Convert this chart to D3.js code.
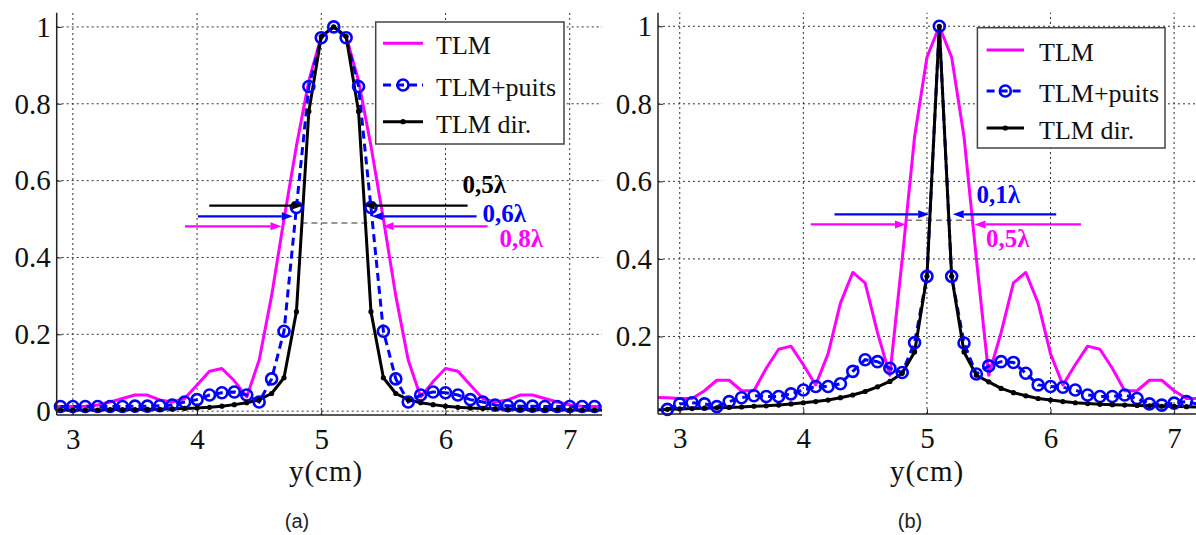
<!DOCTYPE html>
<html>
<head>
<meta charset="utf-8">
<script src="https://cdn.jsdelivr.net/npm/d3@7"></script>
<style>
  html, body { margin: 0; padding: 0; background: #fff; }
  svg { display: block; }
</style>
</head>
<body>
<svg id="chart" width="1196" height="535"></svg>
<script>
// ---------------- DATA ----------------
const seriesNames = ["TLM", "TLM+puits", "TLM dir."];

// Panel (a)
const xA = [2.8, 2.9, 3.0, 3.1, 3.2, 3.3, 3.4, 3.5, 3.6, 3.7, 3.8, 3.9, 4.0, 4.1, 4.2, 4.3, 4.4, 4.5, 4.6, 4.7, 4.8, 4.9, 5.0,
            5.1, 5.2, 5.3, 5.4, 5.5, 5.6, 5.7, 5.8, 5.9, 6.0, 6.1, 6.2, 6.3, 6.4, 6.5, 6.6, 6.7, 6.8, 6.9, 7.0, 7.1, 7.2, 7.3];
const tlmA = [0.012, 0.012, 0.012, 0.013, 0.016, 0.024, 0.033, 0.042, 0.042, 0.029, 0.024, 0.033, 0.068, 0.104, 0.111, 0.079, 0.037, 0.133, 0.30, 0.50, 0.69, 0.86, 0.975,
              1.0, 0.975, 0.86, 0.69, 0.50, 0.30, 0.133, 0.037, 0.077, 0.111, 0.104, 0.068, 0.033, 0.024, 0.029, 0.042, 0.042, 0.033, 0.024, 0.016, 0.013, 0.012, 0.012];
const puitsA = [null, 0.012, 0.012, 0.012, 0.012, 0.012, 0.012, 0.013, 0.013, 0.014, 0.016, 0.024, 0.030, 0.042, 0.048, 0.050, 0.042, 0.024, 0.084, 0.208, 0.53, 0.845, 0.972,
                1.0, 0.972, 0.845, 0.53, 0.208, 0.084, 0.024, 0.042, 0.050, 0.048, 0.042, 0.030, 0.024, 0.016, 0.014, 0.013, 0.013, 0.012, 0.012, 0.012, 0.012, 0.012, null];
const dirA = [0.003, 0.003, 0.003, 0.003, 0.003, 0.004, 0.004, 0.004, 0.005, 0.005, 0.006, 0.007, 0.008, 0.010, 0.013, 0.017, 0.022, 0.030, 0.046, 0.087, 0.259, 0.78, 0.975,
              1.0, 0.975, 0.78, 0.259, 0.087, 0.046, 0.030, 0.022, 0.017, 0.013, 0.010, 0.008, 0.007, 0.006, 0.005, 0.005, 0.004, 0.004, 0.004, 0.003, 0.003, 0.003, 0.003];

// Panel (b)
const xB = [2.8, 2.9, 3.0, 3.1, 3.2, 3.3, 3.4, 3.5, 3.6, 3.7, 3.8, 3.9, 4.0, 4.1, 4.2, 4.3, 4.4, 4.5, 4.6, 4.7, 4.8, 4.9, 5.0,
            5.1, 5.2, 5.3, 5.4, 5.5, 5.6, 5.7, 5.8, 5.9, 6.0, 6.1, 6.2, 6.3, 6.4, 6.5, 6.6, 6.7, 6.8, 6.9, 7.0, 7.1, 7.2];
const tlmB = [0.043, 0.042, 0.040, 0.040, 0.060, 0.087, 0.087, 0.060, 0.060, 0.118, 0.167, 0.175, 0.127, 0.075, 0.155, 0.286, 0.365, 0.338, 0.21, 0.10, 0.40, 0.715, 0.92,
              1.0, 0.92, 0.715, 0.40, 0.10, 0.21, 0.338, 0.365, 0.286, 0.155, 0.075, 0.127, 0.175, 0.167, 0.118, 0.060, 0.060, 0.087, 0.087, 0.060, 0.040, 0.040];
const puitsB = [null, 0.012, 0.026, 0.029, 0.026, 0.019, 0.032, 0.042, 0.047, 0.045, 0.045, 0.052, 0.062, 0.071, 0.071, 0.078, 0.110, 0.140, 0.135, 0.118, 0.107, 0.184, 0.355,
                1.0, 0.355, 0.183, 0.103, 0.124, 0.135, 0.133, 0.105, 0.075, 0.071, 0.069, 0.062, 0.049, 0.045, 0.045, 0.049, 0.040, 0.026, 0.023, 0.028, 0.032, 0.025];
const dirB = [0.010, 0.012, 0.013, 0.014, 0.015, 0.016, 0.017, 0.018, 0.020, 0.021, 0.023, 0.026, 0.029, 0.032, 0.036, 0.042, 0.049, 0.058, 0.070, 0.084, 0.105, 0.16, 0.355,
              1.0, 0.355, 0.16, 0.10, 0.083, 0.066, 0.055, 0.047, 0.040, 0.036, 0.032, 0.029, 0.027, 0.025, 0.024, 0.023, 0.022, 0.021, 0.020, 0.020, 0.019, 0.018];

// Tick labels
const xTicks = [3, 4, 5, 6, 7];
const yTicksA = [0, 0.2, 0.4, 0.6, 0.8, 1];
const yTicksB = [0.2, 0.4, 0.6, 0.8, 1];
const xLabel = "y(cm)";
const captions = ["(a)", "(b)"];

// Annotations: [label, y level, left start, left tip, right start, right tip]
const annotA = [
  ["0,5λ", 0.535, 4.098, 4.854, 6.178, 5.342],
  ["0,6λ", 0.507, 4.007, 4.771, 6.25, 5.406],
  ["0,8λ", 0.481, 3.903, 4.68, 6.339, 5.494]
];
const halfA = [0.49, 4.84, 5.40];
const annotB = [
  ["0,1λ", 0.515, 4.252, 5.018, 6.046, 5.209],
  ["0,5λ", 0.489, 4.06, 4.83, 6.246, 5.385]
];
const halfB = [0.5, 4.83, 5.385];

// ---------------- STYLE / LAYOUT ----------------
const colors = { tlm: "#ff00ff", puits: "#0000ff", dir: "#000000" };
const serif = "'Liberation Serif', 'Times New Roman', Times, serif";
const sans = "'Liberation Sans', Arial, sans-serif";

const svg = d3.select("#chart");

function drawPanel(cfg) {
  const x = d3.scaleLinear().domain(cfg.xDomain).range(cfg.xRange);
  const y = d3.scaleLinear().domain(cfg.yDomain).range(cfg.yRange);
  const g = svg.append("g");
  const [x0, x1] = cfg.xRange;
  const [yb, yt] = cfg.yRange;

  const clipId = "clip" + cfg.id;
  svg.append("defs").append("clipPath").attr("id", clipId)
    .append("rect").attr("x", x0).attr("y", yt).attr("width", x1 - x0).attr("height", yb - yt);

  // grid
  const grid = g.append("g").attr("stroke", "#333").attr("stroke-width", 1).attr("stroke-dasharray", "2,3");
  grid.selectAll("line.v").data(xTicks).join("line")
    .attr("x1", d => x(d)).attr("x2", d => x(d)).attr("y1", yb).attr("y2", yt);
  grid.selectAll("line.h").data(cfg.yTicks).join("line")
    .attr("x1", x0).attr("x2", x1).attr("y1", d => y(d)).attr("y2", d => y(d));

  // half-max gray dashed line
  g.append("line")
    .attr("x1", x(cfg.half[1])).attr("x2", x(cfg.half[2]))
    .attr("y1", y(cfg.half[0])).attr("y2", y(cfg.half[0]))
    .attr("stroke", "#777").attr("stroke-width", 1.5).attr("stroke-dasharray", "6,4");

  const plot = g.append("g").attr("clip-path", `url(#${clipId})`);
  const mk = (ys) => cfg.xs.map((xv, i) => ({ x: xv, y: ys[i] }));
  const line = d3.line().defined(d => d.y !== null).x(d => x(d.x)).y(d => y(d.y));

  const dT = mk(cfg.tlm), dP = mk(cfg.puits), dD = mk(cfg.dir);
  plot.append("path").datum(dT).attr("d", line).attr("fill", "none")
    .attr("stroke", colors.tlm).attr("stroke-width", 3).attr("stroke-linejoin", "round");
  plot.append("path").datum(dP).attr("d", line).attr("fill", "none")
    .attr("stroke", colors.puits).attr("stroke-width", 3).attr("stroke-dasharray", "8,5");
  const inside = d => d.y !== null && d.x >= cfg.xDomain[0] && d.x <= cfg.xDomain[1];
  g.append("g").selectAll("circle").data(dP.filter(inside)).join("circle")
    .attr("cx", d => x(d.x)).attr("cy", d => y(d.y)).attr("r", 5.5)
    .attr("fill", "none").attr("stroke", colors.puits).attr("stroke-width", 2.6);
  plot.append("path").datum(dD).attr("d", line).attr("fill", "none")
    .attr("stroke", colors.dir).attr("stroke-width", 3).attr("stroke-linejoin", "round");
  g.append("g").selectAll("circle").data(dD.filter(inside)).join("circle")
    .attr("cx", d => x(d.x)).attr("cy", d => y(d.y)).attr("r", 2.6).attr("fill", colors.dir);

  // axes
  const ax = g.append("g").attr("transform", `translate(0,${yb})`)
    .call(d3.axisBottom(x).tickValues(xTicks).tickSize(-5).tickSizeOuter(0).tickPadding(13).tickFormat(d => String(d)));
  const ay = g.append("g").attr("transform", `translate(${x0},0)`)
    .call(d3.axisLeft(y).tickValues(cfg.yTicks).tickSize(-5).tickSizeOuter(0).tickPadding(6).tickFormat(d => String(d)));
  [ax, ay].forEach(a => {
    a.attr("font-family", null).attr("font-size", null);
    a.select(".domain").attr("stroke", "#222").attr("stroke-width", 1.5);
    a.selectAll(".tick line").attr("stroke", "#222");
    a.selectAll("text").style("font-family", serif).style("font-size", "29px").attr("fill", "#111");
  });
  ay.select(".domain").attr("d", `M0,${yb}V${yt}`);
  ax.select(".domain").attr("d", `M0,0H${x1 - x0}`).attr("transform", `translate(${x0},0)`);

  // x label
  g.append("text").attr("x", cfg.xLabelX).attr("y", 481).attr("text-anchor", "middle")
    .style("font-family", serif).style("font-size", "29px").attr("fill", "#111")
    .style("letter-spacing", "1px").text(xLabel);
  // caption
  g.append("text").attr("x", cfg.capX).attr("y", 528).attr("text-anchor", "middle")
    .style("font-family", sans).style("font-size", "20px").attr("fill", "#222").text(cfg.caption);

  // annotations (arrows)
  const colorList = cfg.annotColors;
  cfg.annot.forEach((a, i) => {
    const [lab, yv, ls, lt, rs, rt] = a;
    const c = colorList[i];
    const yy = y(yv);
    drawArrow(g, x(ls), x(lt), yy, c);
    drawArrow(g, x(rs), x(rt), yy, c);
    const lp = cfg.labelPos[i];
    g.append("text").attr("x", x(lp[0])).attr("y", y(lp[1]))
      .style("font-family", serif).style("font-size", "25px").style("font-weight", "bold")
      .attr("fill", c).text(lab);
  });

  // legend
  const L = cfg.legend;
  const lg = g.append("g");
  lg.append("rect").attr("x", L.x).attr("y", L.y).attr("width", L.w).attr("height", L.h)
    .attr("fill", "#fff").attr("stroke", "#444").attr("stroke-width", 1.5);
  const rows = [
    { name: seriesNames[0], color: colors.tlm, dash: null, marker: null },
    { name: seriesNames[1], color: colors.puits, dash: "8,5", marker: "o" },
    { name: seriesNames[2], color: colors.dir, dash: null, marker: "." }
  ];
  rows.forEach((r, i) => {
    const ry = L.rows[i];
    lg.append("line").attr("x1", L.s0).attr("x2", L.s1).attr("y1", ry).attr("y2", ry)
      .attr("stroke", r.color).attr("stroke-width", 3).attr("stroke-dasharray", r.dash);
    const cx = (L.s0 + L.s1) / 2;
    if (r.marker === "o") {
      lg.append("circle").attr("cx", cx).attr("cy", ry).attr("r", 5.5).attr("fill", "none")
        .attr("stroke", r.color).attr("stroke-width", 2.6);
    } else if (r.marker === ".") {
      lg.append("circle").attr("cx", cx).attr("cy", ry).attr("r", 2.6).attr("fill", r.color);
    }
    lg.append("text").attr("x", L.tx).attr("y", ry + 11)
      .style("font-family", serif).style("font-size", "26px").attr("fill", "#111").text(r.name);
  });
}

function drawArrow(g, xs, xt, yy, c) {
  const dir = xt > xs ? 1 : -1;
  const hl = 11, hw = 4;
  g.append("line").attr("x1", xs).attr("x2", xt - dir * hl).attr("y1", yy).attr("y2", yy)
    .attr("stroke", c).attr("stroke-width", 2.2);
  g.append("path")
    .attr("d", `M${xt},${yy}L${xt - dir * hl},${yy - hw}L${xt - dir * hl},${yy + hw}Z`)
    .attr("fill", c);
}

drawPanel({
  id: "A",
  xDomain: [2.87, 7.26], xRange: [56.7, 602],
  yDomain: [-0.01, 1.037], yRange: [415, 12.7],
  yTicks: yTicksA, xs: xA, tlm: tlmA, puits: puitsA, dir: dirA,
  half: halfA, annot: annotA,
  annotColors: [colors.dir, colors.puits, colors.tlm],
  labelPos: [[6.137, 0.568], [6.298, 0.491], [6.435, 0.428]],
  xLabelX: 326, capX: 297, caption: captions[0],
  legend: { x: 375.7, y: 22, w: 188.3, h: 122, rows: [43.3, 85, 121.7], s0: 383, s1: 423, tx: 436 }
});

drawPanel({
  id: "B",
  xDomain: [2.824, 7.177], xRange: [658, 1196],
  yDomain: [0, 1.035], yRange: [414, 12.7],
  yTicks: yTicksB, xs: xB, tlm: tlmB, puits: puitsB, dir: dirB,
  half: halfB, annot: annotB,
  annotColors: [colors.puits, colors.tlm],
  labelPos: [[5.4, 0.545], [5.477, 0.43]],
  xLabelX: 927, capX: 910, caption: captions[1],
  legend: { x: 977.4, y: 27.7, w: 187.6, h: 120.3, rows: [50, 91, 128], s0: 986.6, s1: 1024, tx: 1039 }
});
</script>
</body>
</html>
